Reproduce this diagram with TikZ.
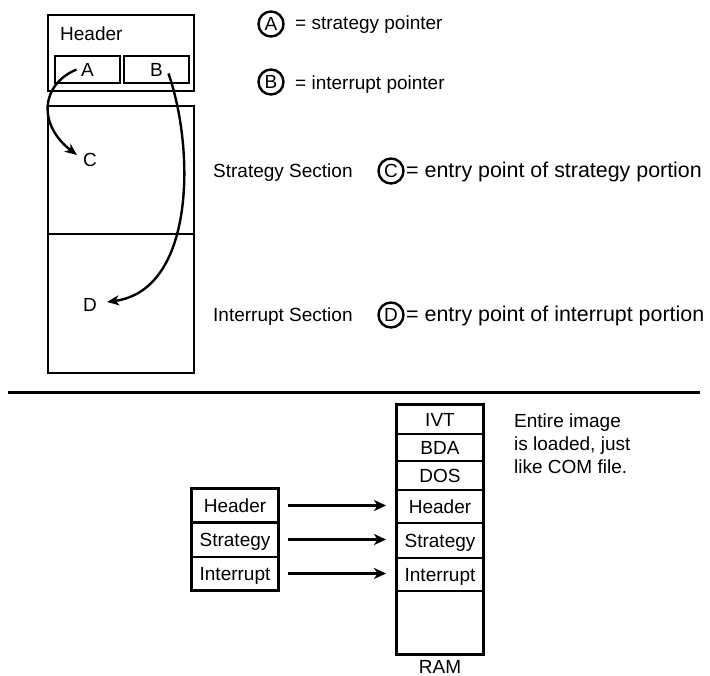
\documentclass[tikz,border=0pt]{standalone}
\usepackage{fontspec}
\setmainfont{Liberation Sans}
\usetikzlibrary{arrows.meta}
\begin{document}
\begin{tikzpicture}[x=1pt,y=-1pt,
  every node/.style={font=\fontsize{19}{23}\selectfont, inner sep=0pt},
  box/.style={draw, line width=2.8pt, text height=13.6pt, text depth=0pt},
  cell/.style={draw, line width=2pt, minimum width=86pt, text height=13.6pt, text depth=0pt},
  frame/.style={draw, line width=2.8pt},
  ptr/.style={line width=2.4pt, -{Stealth[length=12pt,width=10pt,inset=3.5pt]}},
  mv/.style={line width=3pt, -{Stealth[length=12pt,width=11pt,inset=3.5pt]}, shorten <=9pt, shorten >=10pt},
  legend/.style={draw, circle, line width=2.4pt, minimum size=25pt, inner sep=0pt, text height=13.6pt, text depth=0pt},
  bigtext/.style={font=\fontsize{21.4}{25}\selectfont},
]
\useasboundingbox (0,0) rectangle (710,676);

% ---------- top part ----------
\node[box, minimum width=146pt, minimum height=76pt] (hdr) at (121,53) {};
\node[anchor=base west] (hdrtxt) at (60,41) {Header};
\node[box, minimum width=65pt, minimum height=27pt] (pA) at (87.5,69.5) {A};
\node[box, minimum width=65pt, minimum height=27pt] (pB) at (156.5,69.5) {B};
\node[box, minimum width=146pt, minimum height=128pt] (strat) at (121,170) {};
\node[box, minimum width=146pt, minimum height=139pt] (intr) at (121,303.5) {};
\node[text height=13.6pt, text depth=0pt] (C) at (90,160) {C};
\node[text height=13.6pt, text depth=0pt] (D) at (90,305) {D};

\draw[ptr] ([shift={(-11,0)}]pA.center) .. controls (40,85) and (38,125) .. ([shift={(-6,-5)}]C.west);
\draw[ptr] ([shift={(12,4)}]pB.center) .. controls (195,150) and (195,290) .. ([shift={(10,-3)}]D.east);

\node[anchor=base west] (ss) at (213,178) {Strategy Section};
\node[anchor=base west] (is) at (213,322) {Interrupt Section};

% legend
\node[legend] (LA) at (271,24) {A};
\node[anchor=base west] (tA) at (295,29.5) {= strategy pointer};
\node[legend] (LB) at (271,82) {B};
\node[anchor=base west] (tB) at (295,89.5) {= interrupt pointer};
\node[legend] (LC) at (391,171) {C};
\node[anchor=base west, bigtext] (tC) at (406,178) {= entry point of strategy portion};
\node[legend] (LD) at (391,315) {D};
\node[anchor=base west, bigtext] (tD) at (406,322) {= entry point of interrupt portion};

% separator
\draw[line width=2.8pt] (8,392.5) -- (700,392.5);

% ---------- bottom part ----------
\node[cell, minimum height=33pt] (lh) at (235,505.5) {Header};
\node[cell, minimum height=34pt] (ls) at (235,539.5) {Strategy};
\node[cell, minimum height=33pt] (li) at (235,573.5) {Interrupt};
\draw[frame] (lh.north west) rectangle (li.south east);

\node[cell, minimum height=29pt] (rivt) at (440,419.5) {IVT};
\node[cell, minimum height=27pt] (rbda) at (440,447.5) {BDA};
\node[cell, minimum height=29pt] (rdos) at (440,475.5) {DOS};
\node[cell, minimum height=33pt] (rh) at (440,506.5) {Header};
\node[cell, minimum height=35pt] (rs) at (440,540.5) {Strategy};
\node[cell, minimum height=33pt] (ri) at (440,574.5) {Interrupt};
\node[cell, minimum height=63pt] (rfree) at (440,622.5) {};
\draw[frame] (rivt.north west) rectangle (rfree.south east);
\node[anchor=base] (ram) at (440,673) {RAM};

\draw[mv] (lh.east) -- (lh.east -| rh.west);
\draw[mv] (ls.east) -- (ls.east -| rs.west);
\draw[mv] (li.east) -- (li.east -| ri.west);

\node[anchor=base west, align=left] (note) at (514,473) {Entire image\\is loaded, just\\like COM file.};
\end{tikzpicture}
\end{document}
